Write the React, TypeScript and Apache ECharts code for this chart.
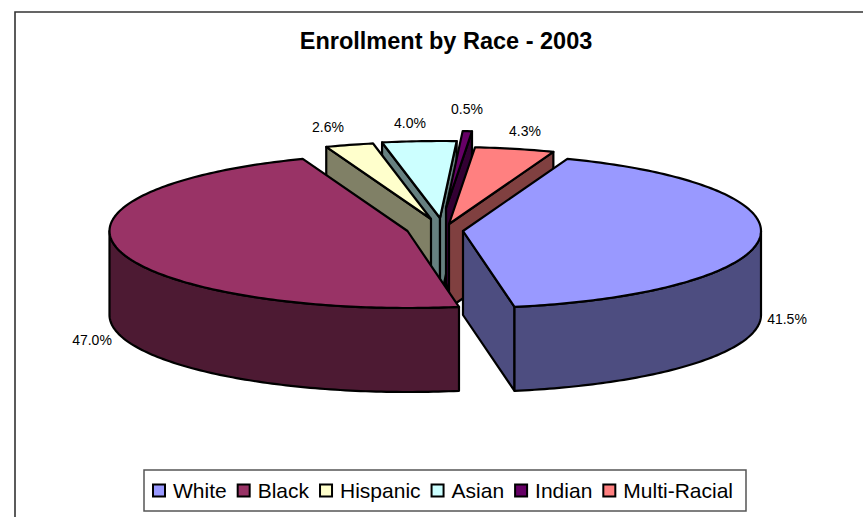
import React, { useEffect, useRef } from "react";
import * as echarts from "echarts";

const categories = ["White", "Black", "Hispanic", "Asian", "Indian", "Multi-Racial"];
const percents = [41.5, 47.0, 2.6, 4.0, 0.5, 4.3];
const topColors = ["#9999FF", "#993366", "#FFFFCC", "#CCFFFF", "#660066", "#FF8080"];
const wallColors = ["#4D4D80", "#4D1A33", "#808066", "#668080", "#330033", "#804040"];
// exploded centre of every slice on the page
const centers = [[463, 231], [407.5, 231], [431, 219], [440, 218], [446, 208], [449, 224]];
const labelPos = [[787, 319], [92, 340], [328, 127], [410, 123], [467, 109], [525, 131]];
// back-to-front paint order
const paintOrder = [3, 4, 5, 2, 1, 0];

const START_DEG = 20.5;
const RX = 298;
const RY = 77;
const DEPTH = 84;

const total = percents.reduce((a, b) => a + b, 0);
const starts: number[] = [];
percents.reduce((acc, v, i) => {
  starts[i] = acc;
  return acc + (v / total) * 360;
}, START_DEG);

function rim(c: number[], deg: number, dy = 0) {
  const t = (deg * Math.PI) / 180;
  return [c[0] + RX * Math.sin(t), c[1] - RY * Math.cos(t) + dy];
}

function renderSlice(idx: number) {
  return (_params: any, api: any) => {
    const value = api.value(0) as number;
    const a0 = starts[idx];
    const a1 = a0 + (value / total) * 360;
    const c = centers[idx];
    const stroke = { stroke: "#000", lineWidth: 2.2, lineJoin: "round" };
    const arc: number[][] = [];
    const n = Math.max(2, Math.ceil(a1 - a0));
    for (let i = 0; i <= n; i++) arc.push(rim(c, a0 + ((a1 - a0) * i) / n));
    const children: any[] = [];
    const wall = (points: number[][]) =>
      children.push({ type: "polygon", shape: { points }, style: { fill: wallColors[idx], ...stroke } });
    const down = (p: number[]) => [p[0], p[1] + DEPTH];
    const first = arc[0];
    const last = arc[arc.length - 1];
    // radial faces
    const nFirst = Math.sin((a0 * Math.PI) / 180);
    if (nFirst < 0) wall([first, c, down(c), down(first)]);
    if (Math.sin((a1 * Math.PI) / 180) > 0) wall([c, last, down(last), down(c)]);
    // outer wall: only the part that faces the viewer
    const lo = Math.max(a0, 90);
    const hi = Math.min(a1, 270);
    if (hi > lo) {
      const front: number[][] = [];
      const m = Math.ceil(hi - lo);
      for (let i = 0; i <= m; i++) front.push(rim(c, lo + ((hi - lo) * i) / m));
      wall([...front, ...front.slice().reverse().map(down)]);
    }
    children.push({
      type: "polygon",
      shape: { points: [c, ...arc] },
      style: { fill: topColors[idx], ...stroke },
    });
    children.push({
      type: "text",
      x: labelPos[idx][0],
      y: labelPos[idx][1],
      style: {
        text: `${value.toFixed(1)}%`,
        fill: "#000",
        font: "14px 'Liberation Sans'",
        align: "center",
        verticalAlign: "middle",
      },
    });
    return { type: "group", children };
  };
}

export default function App() {
  const ref = useRef<HTMLDivElement>(null);
  useEffect(() => {
    document.body.style.margin = "0";
    const chart = echarts.init(ref.current!, undefined, { renderer: "svg" });
    chart.setOption({
      animation: false,
      backgroundColor: "#fff",
      title: {
        text: "Enrollment by Race - 2003",
        left: 441,
        top: 24,
        textAlign: "center",
        textStyle: { fontFamily: "'Liberation Sans'", fontSize: 23.5, fontWeight: "bold", color: "#000" },
      },
      legend: {
        left: 144,
        top: 470,
        padding: [10, 13, 10, 8],
        itemGap: 10,
        itemWidth: 12,
        itemHeight: 12,
        borderColor: "#555",
        borderWidth: 1.5,
        backgroundColor: "#fff",
        textStyle: { fontFamily: "'Liberation Sans'", fontSize: 21, color: "#000", padding: [0, 0, 0, 3] },
        data: categories.map((name, i) => ({
          name,
          icon: "rect",
          itemStyle: { color: topColors[i], borderColor: "#000", borderWidth: 2 },
        })),
      },
      graphic: [
        {
          type: "polyline",
          shape: { points: [[15, 517], [15, 12], [863, 12]] },
          style: { stroke: "#333", lineWidth: 1.6, fill: "none" },
          silent: true,
        },
      ],
      series: paintOrder.map((idx) => ({
        type: "custom",
        name: categories[idx],
        coordinateSystem: "none",
        itemStyle: { color: topColors[idx] },
        renderItem: renderSlice(idx),
        data: [[percents[idx]]],
      })),
    });
    return () => chart.dispose();
  }, []);
  return <div ref={ref} style={{ width: 863, height: 517 }} />;
}
